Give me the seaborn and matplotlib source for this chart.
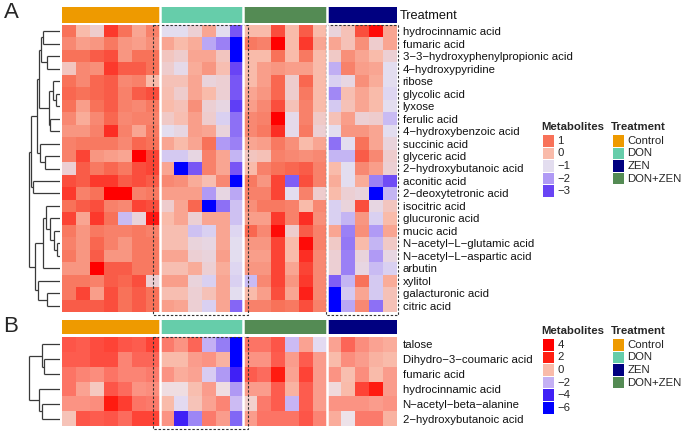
import numpy as np
import pandas as pd
import matplotlib
matplotlib.use("Agg")
import matplotlib.pyplot as plt
import seaborn as sns
from matplotlib.colors import LinearSegmentedColormap, ListedColormap, Normalize
from matplotlib.patches import Rectangle

sns.set_style("white")
plt.rcParams['font.family'] = ['Liberation Sans', 'DejaVu Sans']

# ---- data ----
groups_order = ['Control', 'DON', 'DON+ZEN', 'ZEN']
group_sizes = [7, 6, 6, 5]
legend_groups = ['Control', 'DON', 'ZEN', 'DON+ZEN']
treat_colors = {'Control': '#EE9A00', 'DON': '#66CDAA', 'ZEN': '#000080', 'DON+ZEN': '#548B54'}

rows_A = ['hydrocinnamic acid', 'fumaric acid', '3\u22123\u2212hydroxyphenylpropionic acid',
          '4\u2212hydroxypyridine', 'ribose', 'glycolic acid', 'lyxose', 'ferulic acid',
          '4\u2212hydroxybenzoic acid', 'succinic acid', 'glyceric acid',
          '2\u2212hydroxybutanoic acid', 'aconitic acid', '2\u2212deoxytetronic acid',
          'isocitric acid', 'glucuronic acid', 'mucic acid', 'N\u2212acetyl\u2212L\u2212glutamic acid',
          'N\u2212acetyl\u2212L\u2212aspartic acid', 'arbutin', 'xylitol', 'galacturonic acid',
          'citric acid']

A_control = [
    [1.0, 0.0, -0.5, 1.5, 1.0, 0.3, 0.8],
    [0.7, 0.4, 0.5, 0.9, 0.5, 0.4, 0.6],
    [1.0, 1.0, 1.2, 1.3, 0.5, 1.0, 1.0],
    [-0.3, 0.7, 0.6, 1.5, 1.2, 1.2, 1.0],
    [1.0, 0.7, 1.1, 1.2, 0.7, 0.8, 0.0],
    [1.1, 1.0, 1.1, 1.2, 0.8, 1.2, 1.3],
    [1.0, 0.4, 1.0, 1.2, 0.8, 0.7, 0.9],
    [0.7, 0.2, 0.7, 1.1, 0.7, 0.8, 0.8],
    [0.5, 0.5, 0.8, 1.6, 0.8, 0.3, 0.9],
    [0.8, 0.9, 0.9, 0.9, 0.7, 1.1, 1.0],
    [0.8, 1.4, 0.5, 0.4, 0.3, 2.0, 1.4],
    [-0.6, 1.2, 0.9, 1.1, 0.9, 1.3, 1.4],
    [1.3, 1.2, 1.5, 1.5, 1.2, 1.3, 1.2],
    [1.5, 0.8, 1.0, 2.0, 2.0, 0.8, 0.9],
    [1.0, 1.2, 1.3, 0.8, 0.7, 1.4, 1.3],
    [1.4, 0.3, 1.5, 1.0, -1.5, -0.7, 1.8],
    [0.9, 0.5, 0.9, 0.8, 0.8, 0.9, 0.8],
    [0.8, 0.5, 1.1, 0.8, 0.5, 0.9, 0.9],
    [0.9, 0.5, 1.2, 0.5, 0.5, 0.9, 0.9],
    [0.5, 0.5, 2.0, 1.2, 1.2, 0.9, 0.9],
    [0.9, 0.9, 0.8, 1.2, 1.1, 1.3, -0.6],
    [0.9, 1.4, 0.4, 1.3, 1.0, 1.2, 1.0],
    [1.2, 1.2, 1.2, 1.3, 1.0, 1.2, 1.0],
]
A_don = [
    [-1.0, -1.0, -0.6, 0.3, -1.0, -2.8],
    [0.3, 0.0, 0.2, -1.8, -2.3, -4.0],
    [-0.3, -0.5, 0.3, 0.3, -0.3, -4.0],
    [-0.5, -0.9, 0.2, 0.5, -0.1, -3.0],
    [-0.2, -0.2, 0.3, -0.7, -0.6, -2.8],
    [-0.1, -0.5, 0.3, 0.0, -0.6, -2.8],
    [0.0, -0.2, 0.6, -0.6, -0.8, -3.1],
    [-0.4, -0.1, 0.4, -0.5, -1.2, -2.5],
    [-1.0, -0.8, 0.4, 0.3, -0.7, -2.5],
    [0.3, 0.0, 0.3, 1.0, -2.0, -2.3],
    [-1.3, -1.3, -0.8, 0.8, 0.3, -1.6],
    [0.3, -4.0, -2.8, 0.8, 0.3, -2.8],
    [0.7, 0.6, 0.2, -0.1, 0.7, -4.0],
    [0.4, 0.4, 0.4, -2.0, -0.8, -1.8],
    [-0.5, 0.3, 1.1, -4.0, -2.5, -1.4],
    [0.0, 0.3, -0.6, 0.3, 0.3, -1.4],
    [-0.1, -0.1, -1.4, -1.2, 0.3, -1.1],
    [-0.1, -0.1, -0.7, -0.8, 0.3, -1.0],
    [0.3, 0.3, -0.6, -0.7, 0.4, -1.0],
    [-0.1, -0.1, 0.2, -0.6, 0.2, -1.1],
    [0.4, 0.4, -0.7, -1.2, 0.3, -1.2],
    [-0.1, -0.1, -0.6, -0.2, 0.3, -1.0],
    [0.4, 0.3, -0.6, -1.2, 0.3, -2.6],
]
A_donzen = [
    [0.0, 0.0, 1.3, 0.0, 1.2, 0.0],
    [0.9, 0.8, 2.0, 0.0, 1.5, 0.3],
    [0.0, 0.0, 1.0, 0.0, 0.9, 0.0],
    [0.0, 0.4, 0.5, 0.4, 0.4, 0.0],
    [0.0, 0.4, 1.1, -0.5, 1.1, 0.0],
    [0.3, 0.5, 1.1, -0.5, 0.9, 0.0],
    [0.4, 0.7, 1.3, -0.2, 0.8, 0.0],
    [0.7, 0.8, 2.0, -0.9, 0.8, -0.4],
    [0.7, 0.9, 1.6, -0.9, 0.9, -0.6],
    [0.3, 0.4, 0.9, 0.6, 0.0, 0.3],
    [-0.3, -0.2, 0.8, 0.7, 0.6, 0.7],
    [0.0, 0.8, 1.0, 1.1, 1.2, 0.8],
    [0.9, 0.5, 1.4, -2.7, 1.3, 0.8],
    [0.8, 0.8, 1.4, -1.0, 0.8, -0.5],
    [0.6, 0.9, 0.9, 0.8, 0.0, 0.7],
    [0.4, 0.4, 1.5, 0.8, 1.6, 0.6],
    [1.1, 0.7, 1.9, -0.5, 1.2, 0.8],
    [0.5, 0.5, 1.4, 0.0, 1.9, 0.8],
    [0.4, 0.4, 1.4, 0.0, 1.6, 0.7],
    [0.5, 0.5, 1.4, 0.3, 1.4, 0.7],
    [-1.5, 0.7, 1.4, 0.5, 1.5, 0.7],
    [0.0, 0.4, 1.3, 0.3, 1.7, 0.7],
    [0.8, 0.8, 1.0, 0.9, 1.3, 0.8],
]
A_zen = [
    [-0.7, -0.2, 1.3, 1.9, 0.3],
    [0.3, -0.2, 0.6, -0.5, 0.3],
    [-0.4, 0.6, 0.3, 0.0, -0.6],
    [-1.7, 0.8, 0.4, 0.3, -1.0],
    [-1.2, -0.8, 0.6, 0.2, -1.0],
    [-2.2, -0.1, 0.3, 0.0, -1.1],
    [-1.3, -0.2, 0.3, 0.0, -1.0],
    [-0.2, 0.4, -0.6, -0.5, -1.5],
    [-1.0, 0.5, 0.5, 0.3, -1.0],
    [-2.5, -1.0, 1.0, 0.3, -0.7],
    [-1.6, -1.6, 1.2, 0.7, -0.5],
    [0.0, -1.0, 0.7, 0.4, -0.6],
    [0.2, -1.0, 0.2, -2.3, -2.9],
    [0.0, -0.6, -0.7, -4.0, -1.6],
    [-1.2, -0.7, 1.3, -0.8, -0.3],
    [-1.2, -1.6, 0.5, -1.2, 0.0],
    [0.3, -2.3, 0.6, -2.0, 0.3],
    [-0.4, -2.4, 0.0, -1.6, -0.4],
    [-0.6, -2.3, -0.7, -2.0, -0.8],
    [-0.6, -2.3, -0.8, -1.5, -1.2],
    [-2.7, -1.6, 1.0, -1.3, 0.2],
    [-4.0, -1.3, 0.3, -1.3, -0.2],
    [-4.0, -1.8, 0.7, -2.5, -0.2],
]

rows_B = ['talose', 'Dihydro\u22123\u2212coumaric acid', 'fumaric acid', 'hydrocinnamic acid',
          'N\u2212acetyl\u2212beta\u2212alanine', '2\u2212hydroxybutanoic acid']
B_control = [
    [1.3, 1.2, 1.4, 1.5, 1.3, 1.2, 1.5],
    [1.2, 1.2, 1.4, 1.4, 0.7, 1.1, 1.1],
    [0.9, 0.7, 0.6, 0.9, 0.7, 0.7, 0.8],
    [0.9, 0.3, -0.3, 1.3, 1.0, 0.5, 0.6],
    [0.5, 0.5, 0.6, 2.2, 1.6, 0.9, 0.8],
    [-0.2, 1.3, 1.2, 1.3, 1.0, 1.5, 1.5],
]
B_don = [
    [0.8, 0.5, 1.1, -2.0, -2.7, -6.0],
    [0.0, 0.0, 0.4, 0.5, 0.1, -6.0],
    [0.5, 0.2, 0.3, -1.5, -2.3, -4.0],
    [-0.8, -0.8, -0.1, 0.4, -0.8, -2.3],
    [0.0, -1.2, -0.2, 0.3, 0.7, -1.8],
    [0.5, -4.0, -2.6, 0.8, 0.4, -3.0],
]
B_donzen = [
    [0.9, 0.9, 1.3, -1.8, 0.3, -1.2],
    [0.5, 0.5, 1.2, 0.4, 1.2, 0.4],
    [1.2, 1.0, 2.2, 0.3, 1.5, 0.4],
    [0.4, 0.4, 1.2, 0.1, 1.2, 0.4],
    [-0.5, 0.8, 1.2, -1.9, 1.2, 0.4],
    [0.4, 0.9, 0.9, 0.9, 1.3, 0.7],
]
B_zen = [
    [0.3, 1.1, 0.6, 0.3, 0.2],
    [0.0, 0.6, 0.4, 0.1, 0.0],
    [0.5, -0.1, 0.6, 0.0, 0.4],
    [-0.7, 0.0, 1.5, 2.2, 0.4],
    [0.5, 0.5, 0.5, 0.4, 0.5],
    [0.2, -0.9, 0.8, 0.8, 0.1],
]

# row dendrograms: (left, right, merge height), leaves are row indices
tree_A = ((((((0, 1, 17.5), (2, 3, 13), 19.5),
             ((4, (5, 6, 4), 7), (7, 8, 10), 11), 21),
            (9, (10, 11, 15), 20), 23),
           (12, 13, 27), 29),
          (((14, (15, (16, (17, 18, 3), 6), 10), 14), 19, 17),
           (20, (21, 22, 13), 22), 25), 31)
tree_B = (((0, (1, 2, 15.7), 18.3), (3, (4, 5, 18), 20.7), 30.7))
tree_B = tree_B[0] if len(tree_B) == 1 else tree_B

cmap_A = LinearSegmentedColormap.from_list('A', [
    (0.0, '#0000FF'), (1/6, '#6A45F5'), (2/6, '#B09AF5'), (3/6, '#E3DDF0'),
    (4/6, '#F9BBAA'), (5/6, '#F8735A'), (1.0, '#FF0000')])
norm_A = Normalize(-4, 2)
cmap_B = LinearSegmentedColormap.from_list('B', [
    (0.0, '#0000FF'), (0.2, '#4020F6'), (0.4, '#C4B0F4'), (0.5, '#ECE6F0'),
    (0.6, '#F9BBAA'), (0.8, '#FF1E12'), (1.0, '#FF0000')])
norm_B = Normalize(-6, 4)

W, H = 685, 432
fig = plt.figure(figsize=(W / 100, H / 100), dpi=100)


def px_axes(x0, y0, x1, y1):
    return fig.add_axes([x0 / W, 1 - y1 / H, (x1 - x0) / W, (y1 - y0) / H])


def draw_tree(ax, node):
    if isinstance(node, int):
        return node + 0.5, 0
    left, right, h = node
    yl, hl = draw_tree(ax, left)
    yr, hr = draw_tree(ax, right)
    kw = dict(color='#3a3a3a', lw=0.9, solid_capstyle='butt')
    ax.plot([hl, h], [yl, yl], **kw)
    ax.plot([hr, h], [yr, yr], **kw)
    ax.plot([h, h], [yl, yr], **kw)
    return (yl + yr) / 2, h


columns = [g for g, n in zip(groups_order, group_sizes) for _ in range(n)]
bounds = np.cumsum(group_sizes)[:-1]


def panel(y_bar, y_top, y_bot, rows, parts, cmap, norm, tree, boxes):
    data = pd.DataFrame(np.hstack([np.array(p) for p in parts]), index=rows)
    # annotation bar
    ax_bar = px_axes(62, y_bar[0], 397, y_bar[1])
    codes = np.array([[groups_order.index(c) for c in columns]])
    sns.heatmap(codes, ax=ax_bar, cmap=ListedColormap([treat_colors[g] for g in groups_order]),
                vmin=-0.5, vmax=3.5, cbar=False, xticklabels=False, yticklabels=False)
    for b in bounds:
        ax_bar.axvline(b, color='white', lw=1.8)
    # main heatmap
    ax = px_axes(62, y_top, 397, y_bot)
    sns.heatmap(data, ax=ax, cmap=cmap, vmin=norm.vmin, vmax=norm.vmax, cbar=False,
                xticklabels=False, yticklabels=True)
    for b in bounds:
        ax.axvline(b, color='white', lw=1.8)
    ax.yaxis.tick_right()
    ax.tick_params(axis='y', length=0, pad=4, labelsize=8.2, labelrotation=0)
    for t in ax.get_yticklabels():
        t.set_color('#111111')
    n = len(rows)
    for x0, x1 in boxes:
        ax.add_patch(Rectangle((x0, -0.03), x1 - x0, n + 0.25, fill=False, ls=(0, (2.2, 1.6)),
                               lw=0.8, ec='#333333', clip_on=False))
    # dendrogram
    ax_d = px_axes(28, y_top, 60, y_bot)
    draw_tree(ax_d, tree)
    ax_d.set_xlim(32, 0)
    ax_d.set_ylim(n, 0)
    ax_d.axis('off')
    return ax


panel((7, 23), 25, 312, rows_A, [A_control, A_don, A_donzen, A_zen], cmap_A, norm_A, tree_A,
      [(6.52, 13.32), (18.9, 24.07)])
panel((320, 334), 337, 426, rows_B, [B_control, B_don, B_donzen, B_zen], cmap_B, norm_B, tree_B,
      [(6.52, 13.32)])

fig.text(400 / W, 1 - 16 / H, 'Treatment', fontsize=9.2, va='center', ha='left', color='#111111')
fig.text(4 / W, 1 - 13 / H, 'A', fontsize=16, va='center', ha='left')
fig.text(3 / W, 1 - 326 / H, 'B', fontsize=16, va='center', ha='left')


def legend(x, y_title, y0, title, labels, colors, step=12.6, size=11.5):
    fig.text(x / W, 1 - y_title / H, title, fontsize=8.2, fontweight='bold', va='center', ha='left')
    for i, (lab, c) in enumerate(zip(labels, colors)):
        yt = y0 + i * step
        fig.patches.append(Rectangle((x + 1.5, H - yt - size), size, size, transform=None,
                                     fc=c, ec='none'))
        fig.text((x + 16.5) / W, 1 - (yt + size / 2) / H, lab, fontsize=8.2, va='center', ha='left')


ticks_A = [1, 0, -1, -2, -3]
ticks_B = [4, 2, 0, -2, -4, -6]
fmt = lambda v: str(v).replace('-', '\u2212')
legend(541, 127, 135, 'Metabolites', [fmt(v) for v in ticks_A], [cmap_A(norm_A(v)) for v in ticks_A])
legend(611, 127, 135, 'Treatment', legend_groups, [treat_colors[g] for g in legend_groups])
legend(541, 331, 339, 'Metabolites', [fmt(v) for v in ticks_B], [cmap_B(norm_B(v)) for v in ticks_B])
legend(611, 331, 339, 'Treatment', legend_groups, [treat_colors[g] for g in legend_groups])

fig.savefig('out.png', dpi=100)
